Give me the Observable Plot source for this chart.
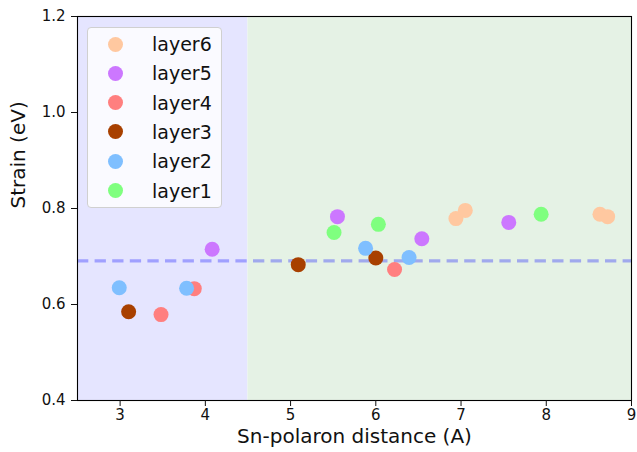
<!DOCTYPE html>
<html>
<head>
<meta charset="utf-8">
<script src="https://cdn.jsdelivr.net/npm/d3@7"></script>
<script src="https://cdn.jsdelivr.net/npm/@observablehq/plot@0.6"></script>
<style>
  html, body { margin: 0; padding: 0; background: #fff; }
  #wrap { position: relative; width: 637px; height: 452px; font-family: "DejaVu Sans", sans-serif; }
  #legend { position: absolute; left: 87px; top: 27px; width: 135px; height: 181px;
    background: rgba(255,255,255,0.8); border: 1px solid #d0d0d0; border-radius: 4px; box-sizing: border-box; }
  .row { position: absolute; left: 0; height: 22px; }
  .sw { position: absolute; left: 20px; width: 15px; height: 15px; border-radius: 50%; }
  .lab { position: absolute; left: 64px; top: 0; font-size: 19px; color: #111; white-space: nowrap; line-height: 22px; }
</style>
</head>
<body>
<div id="wrap"></div>
<script>
const layers = ["layer6", "layer5", "layer4", "layer3", "layer2", "layer1"];
const colors = ["#ffc8a0", "#cc77ff", "#ff7f7f", "#a84000", "#7fbfff", "#7fff7f"];

const layer6X = [6.94, 7.05, 8.63, 8.72];
const layer6Y = [0.779, 0.796, 0.788, 0.783];
const layer5X = [4.08, 5.55, 6.54, 7.56];
const layer5Y = [0.715, 0.783, 0.737, 0.771];
const layer4X = [3.87, 3.48, 6.22];
const layer4Y = [0.633, 0.579, 0.673];
const layer3X = [3.10, 5.09, 6.00];
const layer3Y = [0.585, 0.683, 0.697];
const layer2X = [2.99, 3.78, 5.88, 6.39];
const layer2Y = [0.635, 0.634, 0.717, 0.698];
const layer1X = [5.51, 6.03, 7.94];
const layer1Y = [0.750, 0.767, 0.788];

const spanStarts = [2.5, 4.5];
const spanEnds = [4.5, 9];
const spanColors = ["#e5e5ff", "#e5f2e5"];
const refLine = [0.691];
const xTicks = [3, 4, 5, 6, 7, 8, 9];
const yTicks = [0.4, 0.6, 0.8, 1.0, 1.2];
const xDomain = [2.5, 9];
const yDomain = [0.4, 1.2];
const xLabel = "Sn-polaron distance (A)";
const yLabel = "Strain (eV)";

const seriesX = [layer6X, layer5X, layer4X, layer3X, layer2X, layer1X];
const seriesY = [layer6Y, layer5Y, layer4Y, layer3Y, layer2Y, layer1Y];
const points = [];
layers.forEach((name, i) => seriesX[i].forEach((x, j) => points.push({layer: name, x, y: seriesY[i][j]})));
const spans = spanStarts.map((s, i) => ({x1: s, x2: spanEnds[i], fill: spanColors[i]}));

const chart = Plot.plot({
  width: 637,
  height: 452,
  marginLeft: 77,
  marginRight: 6,
  marginTop: 16,
  marginBottom: 52,
  style: {fontFamily: "DejaVu Sans, sans-serif", fontSize: "15px", color: "#111", background: "transparent"},
  x: {domain: xDomain},
  y: {domain: yDomain},
  color: {domain: layers, range: colors},
  marks: [
    Plot.rect(spans, {x1: "x1", x2: "x2", y1: yDomain[0], y2: yDomain[1], fill: "fill"}),
    Plot.ruleY(refLine, {stroke: "#0000ff", strokeOpacity: 0.3, strokeWidth: 3.3, strokeDasharray: "11.3,6.3"}),
    Plot.dot(points, {x: "x", y: "y", fill: "layer", r: 7.5}),
    Plot.frame({stroke: "#000", strokeWidth: 1.1}),
    Plot.axisX({ticks: xTicks, tickSize: 6, tickPadding: 3, tickFormat: d3.format("d"), label: null, fontSize: 15}),
    Plot.axisY({ticks: yTicks, tickSize: 6, tickPadding: 6, tickFormat: d3.format(".1f"), label: null, fontSize: 15}),
    Plot.text([xLabel], {frameAnchor: "bottom", dy: 42, fontSize: 20, fill: "#111", text: d => d}),
    Plot.text([yLabel], {frameAnchor: "left", dx: -59, rotate: -90, fontSize: 20, fill: "#111", text: d => d})
  ]
});

const wrap = document.getElementById("wrap");
wrap.appendChild(chart);

const legend = document.createElement("div");
legend.id = "legend";
layers.forEach((name, i) => {
  const row = document.createElement("div");
  row.className = "row";
  row.style.top = (5 + i * 29.3) + "px";
  const sw = document.createElement("div");
  sw.className = "sw";
  sw.style.background = colors[i];
  sw.style.top = "3.5px";
  const lab = document.createElement("div");
  lab.className = "lab";
  lab.textContent = name;
  row.appendChild(sw);
  row.appendChild(lab);
  legend.appendChild(row);
});
wrap.appendChild(legend);
</script>
</body>
</html>
